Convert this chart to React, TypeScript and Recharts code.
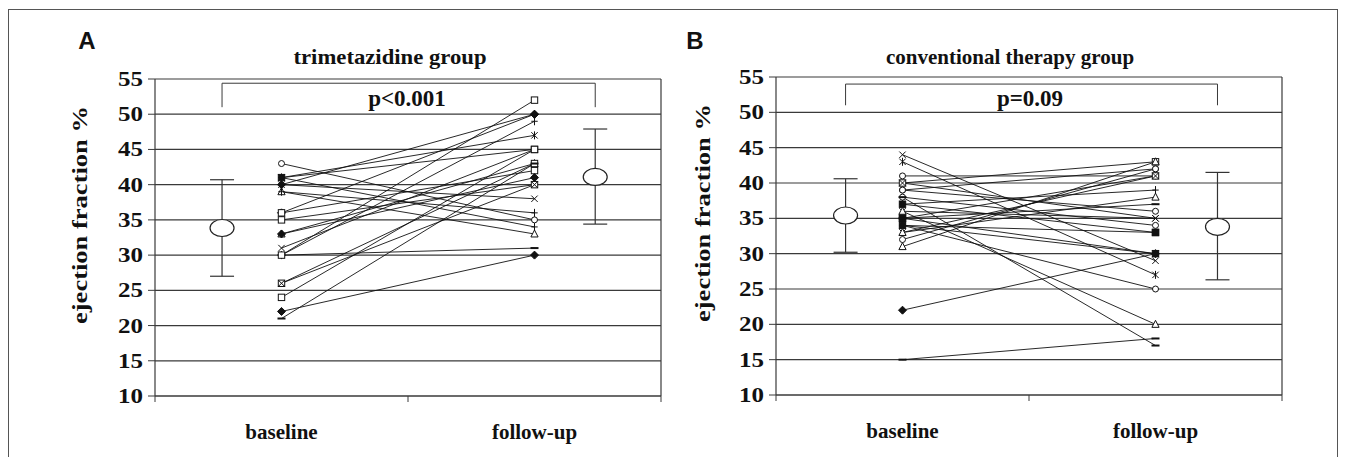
import React from 'react';
import { ComposedChart, Line, Scatter, ErrorBar, XAxis, YAxis, CartesianGrid, ReferenceLine } from 'recharts';

const yTicks = [10, 15, 20, 25, 30, 35, 40, 45, 50, 55];
const xTicks = [0, 1, 2, 3, 4];
const categoryLabels: Record<number, string> = { 1: 'baseline', 3: 'follow-up' };
const categoryX = [1, 3];

// Panel A – trimetazidine group
const baselineA = [43, 41, 41, 41, 40, 39, 39, 36, 36, 35, 33, 33, 31, 30, 30, 30, 26, 26, 24, 22, 21, 40];
const followA = [35, 47, 34, 45, 38, 33, 36, 50, 42, 40, 43, 41, 45, 49, 31, 52, 43, 40, 45, 30, 43, 50];
const markersA = ['circle', 'asterisk', 'plus', 'squareFilled', 'x', 'triangle', 'plus', 'diamond', 'square', 'square', 'triangle', 'diamond', 'x', 'plus', 'dash', 'square', 'square', 'x', 'square', 'diamond', 'dash', 'diamond'];
const meanA = [33.85, 41.1];
const sdLowA = [6.85, 6.7];
const sdHighA = [6.85, 6.8];
const meanXA = [0.53, 3.48];
const bracketA = [51, 54.4];

// Panel B – conventional therapy group
const baselineB = [44, 43, 41, 40, 39, 39, 38, 38, 37, 37, 36, 36, 35, 35, 35, 34, 34, 34, 33, 33, 32, 31, 22, 15, 40];
const followB = [29, 27, 41, 43, 42, 36, 34, 17, 33, 39, 35, 20, 41, 30, 37, 25, 33, 30, 41, 38, 42, 43, 30, 18, 35];
const markersB = ['x', 'asterisk', 'circle', 'square', 'circle', 'circle', 'circle', 'dash', 'squareFilled', 'plus', 'x', 'triangle', 'square', 'squareFilled', 'dash', 'circle', 'squareFilled', 'asterisk', 'x', 'triangle', 'circle', 'triangle', 'diamond', 'dash', 'x'];
const meanB = [35.4, 33.8];
const sdLowB = [5.2, 7.5];
const sdHighB = [5.2, 7.7];
const meanXB = [0.55, 3.49];
const bracketB = [51, 54.0];

const SERIF = '"Liberation Serif", "Times New Roman", serif';
const SANS = '"Liberation Sans", Arial, sans-serif';
const INK = '#111';
const GRID = '#3a3a3a';

function Marker({ cx, cy, type }: { cx: number; cy: number; type: string }) {
  const s = 3.2;
  const common = { stroke: INK, strokeWidth: 1 };
  switch (type) {
    case 'circle':
      return <circle cx={cx} cy={cy} r={3} fill="#fff" {...common} />;
    case 'square':
      return <rect x={cx - s} y={cy - s} width={2 * s} height={2 * s} fill="#fff" {...common} />;
    case 'squareFilled':
      return <rect x={cx - s} y={cy - s} width={2 * s} height={2 * s} fill={INK} {...common} />;
    case 'triangle':
      return <polygon points={`${cx},${cy - 4} ${cx - 3.6},${cy + 3} ${cx + 3.6},${cy + 3}`} fill="#fff" {...common} />;
    case 'diamond':
      return <polygon points={`${cx},${cy - 4} ${cx + 4},${cy} ${cx},${cy + 4} ${cx - 4},${cy}`} fill={INK} {...common} />;
    case 'asterisk':
      return (
        <g {...common}>
          <line x1={cx - s} y1={cy - s} x2={cx + s} y2={cy + s} />
          <line x1={cx - s} y1={cy + s} x2={cx + s} y2={cy - s} />
          <line x1={cx} y1={cy - 4} x2={cx} y2={cy + 4} />
        </g>
      );
    case 'x':
      return (
        <g {...common}>
          <line x1={cx - s} y1={cy - s} x2={cx + s} y2={cy + s} />
          <line x1={cx - s} y1={cy + s} x2={cx + s} y2={cy - s} />
        </g>
      );
    case 'plus':
      return (
        <g {...common}>
          <line x1={cx - s} y1={cy} x2={cx + s} y2={cy} />
          <line x1={cx} y1={cy - 4} x2={cx} y2={cy + 4} />
        </g>
      );
    case 'dash':
    default:
      return <line x1={cx - 4} y1={cy} x2={cx + 4} y2={cy} stroke={INK} strokeWidth={2} />;
  }
}

function YTick(props: any) {
  const { x, y, payload } = props;
  return (
    <text x={x} y={y} textAnchor="end" dominantBaseline="central" fontFamily={SERIF} fontWeight="bold" fontSize={20} fill={INK} textLength={25} lengthAdjust="spacingAndGlyphs">
      {payload.value}
    </text>
  );
}

function XTick(props: any) {
  const { x, y, payload } = props;
  const v = payload.value;
  if (categoryLabels[v]) {
    return (
      <text x={x} y={y + 43} textAnchor="middle" fontFamily={SERIF} fontWeight="bold" fontSize={21} fill={INK}>
        {categoryLabels[v]}
      </text>
    );
  }
  return <line x1={x} y1={y} x2={x} y2={y + 6} stroke={GRID} strokeWidth={1} />;
}

function Ellipse(props: any) {
  return <ellipse cx={props.cx} cy={props.cy} rx={12} ry={8.5} fill="#fff" stroke="#222" strokeWidth={1.2} />;
}

type PanelProps = {
  baseline: number[];
  follow: number[];
  markers: string[];
  mean: number[];
  sdLow: number[];
  sdHigh: number[];
  meanX: number[];
  bracket: number[];
  width: number;
  height: number;
  margin: { top: number; right: number; left: number; bottom: number };
  yWidth: number;
};

function Panel(p: PanelProps) {
  const meanData = p.mean.map((m, i) => ({ x: p.meanX[i], y: m, err: [p.sdLow[i], p.sdHigh[i]] }));
  const bracketData = [
    { x: p.meanX[0], y: p.bracket[0] },
    { x: p.meanX[0], y: p.bracket[1] },
    { x: p.meanX[1], y: p.bracket[1] },
    { x: p.meanX[1], y: p.bracket[0] },
  ];
  return (
    <ComposedChart width={p.width} height={p.height} margin={p.margin}>
      <CartesianGrid vertical={false} stroke={GRID} strokeWidth={1.2} />
      <XAxis type="number" dataKey="x" domain={[0, 4]} ticks={xTicks} interval={0} allowDataOverflow tick={<XTick />} tickLine={false} tickSize={0} tickMargin={0} axisLine={{ stroke: GRID, strokeWidth: 1.2 }} height={40} />
      <YAxis type="number" dataKey="y" domain={[10, 55]} ticks={yTicks} interval={0} allowDataOverflow width={p.yWidth} tickSize={7} tickMargin={5} tick={<YTick />} tickLine={{ stroke: GRID }} axisLine={{ stroke: GRID, strokeWidth: 1.2 }} />
      <ReferenceLine x={4} stroke={GRID} strokeWidth={1.2} />
      <Line data={bracketData} dataKey="y" stroke={GRID} strokeWidth={1} dot={false} activeDot={false} isAnimationActive={false} />
      {p.baseline.map((b, i) => {
        const t = p.markers[i];
        const data = [
          { x: categoryX[0], y: b },
          { x: categoryX[1], y: p.follow[i] },
        ];
        return (
          <Line
            key={`pt${i}`}
            data={data}
            dataKey="y"
            stroke={INK}
            strokeWidth={0.9}
            activeDot={false}
            isAnimationActive={false}
            dot={(d: any) => <Marker key={`m${i}-${d.index}`} cx={d.cx} cy={d.cy} type={t} />}
          />
        );
      })}
      <Scatter data={meanData} dataKey="y" shape={<Ellipse />} isAnimationActive={false}>
        <ErrorBar dataKey="err" direction="y" width={12} stroke="#333" strokeWidth={1.2} />
      </Scatter>
    </ComposedChart>
  );
}

export default function App() {
  return (
    <div
      style={{
        position: 'fixed',
        left: 8,
        top: 9,
        width: 1330,
        height: 470,
        boxSizing: 'border-box',
        border: '1.5px solid #555',
        background: '#fff',
      }}
    >
      <div style={{ position: 'absolute', left: 0, top: 0 }}>
        <Panel
          baseline={baselineA}
          follow={followA}
          markers={markersA}
          mean={meanA}
          sdLow={sdLowA}
          sdHigh={sdHighA}
          meanX={meanXA}
          bracket={bracketA}
          width={680}
          height={440}
          margin={{ top: 69, right: 28, left: 0, bottom: 14 }}
          yWidth={146}
        />
      </div>
      <div style={{ position: 'absolute', left: 640, top: 0 }}>
        <Panel
          baseline={baselineB}
          follow={followB}
          markers={markersB}
          mean={meanB}
          sdLow={sdLowB}
          sdHigh={sdHighB}
          meanX={meanXB}
          bracket={bracketB}
          width={660}
          height={440}
          margin={{ top: 67, right: 27, left: 0, bottom: 15 }}
          yWidth={127}
        />
      </div>
      <svg width={1328} height={450} style={{ position: 'absolute', left: 0, top: 0, pointerEvents: 'none' }}>
        <text x={78} y={39} textAnchor="middle" fontFamily={SANS} fontWeight="bold" fontSize={24} fill={INK}>A</text>
        <text x={686} y={39} textAnchor="middle" fontFamily={SANS} fontWeight="bold" fontSize={24} fill={INK}>B</text>
        <text x={381} y={54} textAnchor="middle" fontFamily={SERIF} fontWeight="bold" fontSize={22} fill={INK} textLength={193} lengthAdjust="spacingAndGlyphs">trimetazidine group</text>
        <text x={1001} y={54} textAnchor="middle" fontFamily={SERIF} fontWeight="bold" fontSize={21} fill={INK}>conventional therapy group</text>
        <text x={398} y={96} textAnchor="middle" fontFamily={SERIF} fontWeight="bold" fontSize={23} fill={INK}>p&lt;0.001</text>
        <text x={1021} y={96} textAnchor="middle" fontFamily={SERIF} fontWeight="bold" fontSize={23} fill={INK}>p=0.09</text>
        <text x={71} y={205} textAnchor="middle" dominantBaseline="central" transform="rotate(-90 71 205)" fontFamily={SERIF} fontWeight="bold" fontSize={21} fill={INK} textLength={218} lengthAdjust="spacingAndGlyphs">ejection fraction %</text>
        <text x={694} y={203} textAnchor="middle" dominantBaseline="central" transform="rotate(-90 694 203)" fontFamily={SERIF} fontWeight="bold" fontSize={21} fill={INK} textLength={218} lengthAdjust="spacingAndGlyphs">ejection fraction %</text>
      </svg>
    </div>
  );
}
